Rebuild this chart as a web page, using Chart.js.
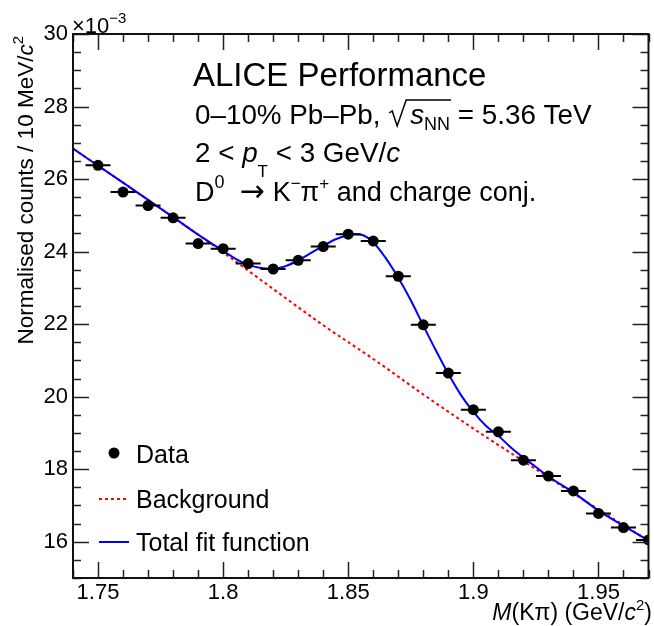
<!DOCTYPE html>
<html>
<head>
<meta charset="utf-8">
<script src="https://cdn.jsdelivr.net/npm/chart.js@4.4.1/dist/chart.umd.min.js"></script>
<style>
  html,body{margin:0;padding:0;background:#fff;}
  canvas{display:block;}
</style>
</head>
<body>
<canvas id="c" width="654" height="626"></canvas>
<script>
/* ── DATA (counts in units of 1e-3) ── */
const massBins = [1.75,1.76,1.77,1.78,1.79,1.80,1.81,1.82,1.83,1.84,1.85,1.86,
                  1.87,1.88,1.89,1.90,1.91,1.92,1.93,1.94,1.95,1.96,1.97];
const counts   = [26.38,25.64,25.27,24.93,24.22,24.08,23.67,23.52,23.76,24.14,24.48,24.29,
                  23.32,21.98,20.65,19.64,19.03,18.25,17.81,17.40,16.78,16.39,16.05];
const binHalfWidth = 0.005;

const bkgMass = [1.74,1.76,1.78,1.80,1.82,1.84,1.86,1.88,1.90,1.92,1.94,1.96,1.97];
const bkgVals = [26.84,25.90,24.95,23.98,22.97,21.97,21.04,20.06,19.12,18.22,17.33,16.46,16.03];

const fitMass = [1.74,1.76,1.78,1.79,1.80,1.805,1.81,1.815,1.82,1.825,1.83,1.835,1.84,1.845,
                 1.85,1.853,1.856,1.86,1.865,1.87,1.875,1.88,1.885,1.89,1.895,1.90,1.905,
                 1.91,1.915,1.92,1.925,1.93,1.94,1.95,1.96,1.97];
const fitVals = [26.84,25.90,24.95,24.47,24.02,23.80,23.64,23.55,23.53,23.60,23.76,23.96,24.16,24.34,
                 24.45,24.48,24.45,24.26,23.82,23.28,22.66,21.96,21.28,20.63,20.05,19.58,19.20,
                 18.92,18.60,18.32,18.06,17.80,17.36,16.86,16.44,16.03];

const xTicks = [1.75,1.8,1.85,1.9,1.95];
const xTickLabels = ['1.75','1.8','1.85','1.9','1.95'];
const yTicks = [16,18,20,22,24,26,28,30];

const FONT = '"Liberation Sans", Arial, sans-serif';
const pts = (xs, ys) => xs.map((x,i)=>({x, y:ys[i]}));

/* draw a run of text pieces: [text, size, style, dy, extraAdvance, family] */
function rich(ctx, x, y, parts, align) {
  const f = p => (p[2]||'')+' '+p[1]+'px '+(p[5]||FONT);
  const ws = parts.map(p=>{ ctx.font = f(p); return ctx.measureText(p[0]).width + (p[4]||0); });
  const total = ws.reduce((a,b)=>a+b,0);
  let cx = align==='right' ? x-total : x;
  const xs = [];
  parts.forEach((p,i)=>{
    ctx.font = f(p);
    ctx.fillText(p[0], cx, y+(p[3]||0));
    xs.push(cx); cx += ws[i];
  });
  xs.push(cx);
  return xs;
}

/* ── horizontal bin-width bars under the markers ── */
const errorBars = {
  id:'errorBars',
  beforeDatasetDraw(chart, args) {
    if (args.index !== 0) return;
    const {ctx, chartArea:a, scales:{x, y}} = chart;
    ctx.save();
    ctx.beginPath(); ctx.rect(a.left, a.top, a.right-a.left, a.bottom-a.top); ctx.clip();
    ctx.strokeStyle = '#000'; ctx.lineWidth = 2;
    massBins.forEach((m,i)=>{
      const py = y.getPixelForValue(counts[i]);
      ctx.beginPath();
      ctx.moveTo(x.getPixelForValue(m-binHalfWidth), py);
      ctx.lineTo(x.getPixelForValue(m+binHalfWidth), py);
      ctx.stroke();
    });
    ctx.restore();
  }
};

/* ── ROOT-style frame with inward ticks on all four sides ── */
const frameTicks = {
  id:'frameTicks',
  afterDraw(chart) {
    const {ctx, chartArea:a, scales:{x, y}} = chart;
    ctx.save();
    ctx.strokeStyle = '#222'; ctx.lineWidth = 1.5;
    ctx.beginPath();
    for (let v=174; v<=197; v++) {
      const px = Math.round(x.getPixelForValue(v/100))+0.5;
      const len = xTicks.some(t=>Math.abs(t*100-v)<1e-6) ? 16 : 8;
      ctx.moveTo(px, a.bottom); ctx.lineTo(px, a.bottom-len);
      ctx.moveTo(px, a.top);    ctx.lineTo(px, a.top+len);
    }
    for (let v=30; v<=60; v++) {
      const py = Math.round(y.getPixelForValue(v/2))+0.5;
      const len = v%4===0 ? 16 : 8;
      ctx.moveTo(a.left, py);  ctx.lineTo(a.left+len, py);
      ctx.moveTo(a.right, py); ctx.lineTo(a.right-len, py);
    }
    ctx.stroke();
    ctx.lineWidth = 2; ctx.strokeStyle = '#111';
    ctx.strokeRect(a.left, a.top, a.right-a.left, a.bottom-a.top);
    ctx.restore();
  }
};

/* ── texts: labels, exponent, legend ── */
const texts = {
  id:'texts',
  afterDraw(chart) {
    const {ctx} = chart;
    ctx.save();
    ctx.fillStyle = '#000'; ctx.textBaseline = 'alphabetic';

    // exponent
    rich(ctx, 72, 33, [['\u00d710',22], ['\u22123',15,'',-10]]);

    // axis titles
    rich(ctx, 652, 620, [['M',23,'italic'], ['(K\u03c0) (GeV/',23], ['c',23,'italic'], ['2',15,'',-10], [')',23]], 'right');
    ctx.save();
    ctx.translate(33, 36); ctx.rotate(-Math.PI/2);
    rich(ctx, 0, 0, [['Normalised counts / 10 MeV/',22.5], ['c',22.5,'italic'], ['2',15,'',-10]], 'right');
    ctx.restore();

    // header
    rich(ctx, 193, 86, [['ALICE Performance',33]]);
    const l2 = rich(ctx, 195, 124, [['0\u201310% Pb\u2013Pb, ',27.8], ['',27.8,'',0,22], ['s',27.8,'italic'], ['NN',18,'',6], [' = 5.36 TeV',27.8]]);
    ctx.strokeStyle = '#000'; ctx.lineWidth = 1.5;
    ctx.beginPath();
    ctx.moveTo(l2[1]+1, 113); ctx.lineTo(l2[1]+4, 111); ctx.lineTo(l2[1]+9, 126);
    ctx.lineTo(l2[1]+18, 100); ctx.lineTo(l2[4]+1, 100);
    ctx.stroke();
    rich(ctx, 195, 162, [['2 < ',27.8], ['p',27.8,'italic'], ['T',17,'',15], [' < 3 GeV/',27.8], ['c',27.8,'italic']]);
    rich(ctx, 195, 201, [['D',27], ['0',18,'',-13,15], ['\u2192',30,'',0,8,'"DejaVu Sans", sans-serif'], ['K',27], ['\u2212',17,'',-12], ['\u03c0',27], ['+',17,'',-12], [' and charge conj.',27]]);

    // legend
    ctx.beginPath(); ctx.arc(114, 453, 5.5, 0, Math.PI*2); ctx.fill();
    rich(ctx, 136, 463, [['Data',25]]);
    ctx.lineWidth = 2;
    ctx.strokeStyle = '#ff0000'; ctx.setLineDash([3,3]);
    ctx.beginPath(); ctx.moveTo(99, 499); ctx.lineTo(127, 499); ctx.stroke();
    ctx.setLineDash([]);
    rich(ctx, 136, 508, [['Background',25]]);
    ctx.strokeStyle = '#0000ff';
    ctx.beginPath(); ctx.moveTo(99, 542); ctx.lineTo(129, 542); ctx.stroke();
    rich(ctx, 136, 551, [['Total fit function',25]]);
    ctx.restore();
  }
};

new Chart(document.getElementById('c'), {
  type:'scatter',
  data:{
    datasets:[
      { label:'Data', data:pts(massBins, counts), order:0,
        pointRadius:5.5, pointBackgroundColor:'#000', pointBorderColor:'#000', pointBorderWidth:0,
        showLine:false },
      { label:'Total fit function', data:pts(fitMass, fitVals), order:1,
        showLine:true, pointRadius:0, borderColor:'#0000ff', borderWidth:2,
        cubicInterpolationMode:'monotone' },
      { label:'Background', data:pts(bkgMass, bkgVals), order:2,
        showLine:true, pointRadius:0, borderColor:'#ff0000', borderWidth:2,
        borderDash:[3,3], cubicInterpolationMode:'monotone' }
    ]
  },
  options:{
    responsive:false, animation:false, devicePixelRatio:1,
    layout:{padding:{left:0, top:34, right:1, bottom:0}},
    plugins:{legend:{display:false}, tooltip:{enabled:false}},
    scales:{
      x:{ type:'linear', min:1.74, max:1.97,
          grid:{display:false, drawTicks:false}, border:{display:false},
          afterBuildTicks:s=>{ s.ticks = xTicks.map(v=>({value:v})); },
          afterFit:s=>{ s.height = 48; },
          ticks:{ color:'#000', font:{family:FONT, size:22}, padding:2, maxRotation:0, autoSkip:false,
                  callback:(v,i)=>xTickLabels[i] } },
      y:{ min:15, max:30,
          grid:{display:false, drawTicks:false}, border:{display:false},
          afterBuildTicks:s=>{ s.ticks = yTicks.map(v=>({value:v})); },
          afterFit:s=>{ s.width = 73; },
          ticks:{ color:'#000', font:{family:FONT, size:22}, padding:5, autoSkip:false } }
    }
  },
  plugins:[errorBars, frameTicks, texts]
});
</script>
</body>
</html>
